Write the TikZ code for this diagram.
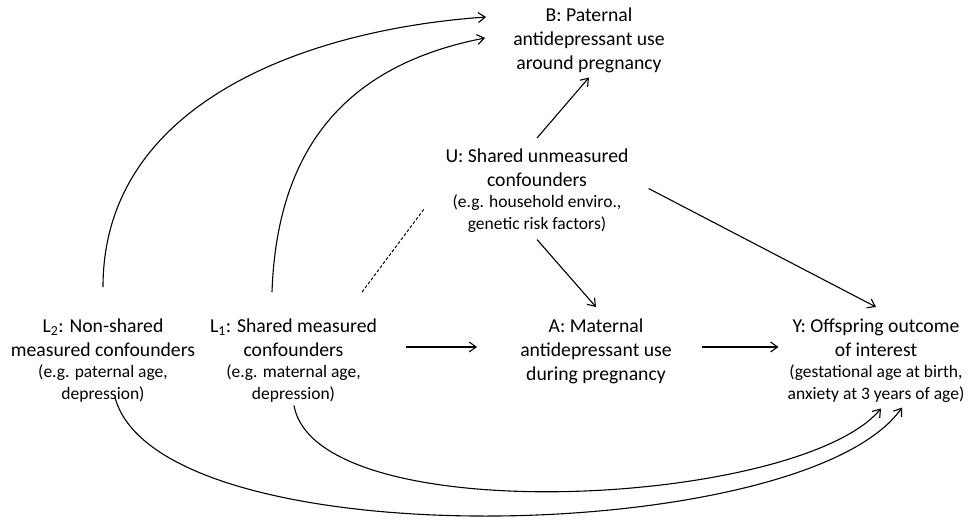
\documentclass[tikz,border=0pt]{standalone}
\usepackage{fontspec}
\setmainfont{Carlito}
\usetikzlibrary{arrows.meta}
\tikzset{txt/.style={align=center,inner sep=0pt,anchor=north,
    font=\fontsize{19.7}{24}\selectfont}}
\tikzset{arrow/.style={-{Straight Barb[length=7pt,width=10pt]},line width=1.1pt}}
\tikzset{assoc/.style={line width=1pt,dash pattern=on 3pt off 2pt}}
\newcommand{\eg}{\fontsize{17.5}{21.5}\selectfont}

\begin{document}
\begin{tikzpicture}[x=1pt,y=1pt]
        \useasboundingbox (0,0) rectangle (970,520);

        \node[txt] (b) at (589,512.5) {B: Paternal\\antidepressant use\\around pregnancy};
        \node[txt] (u) at (537,371.5) {U: Shared unmeasured\\confounders\\[-2.5pt]
            {\eg (e.g. household enviro.,}\\[-2.5pt]{\eg genetic risk factors)}};
        \node[txt] (l2) at (103,201.5) {L\textsubscript{2}: Non-shared\\measured confounders\\[-2.5pt]
            {\eg (e.g. paternal age,}\\[-2.5pt]{\eg depression)}};
        \node[txt] (l1) at (293.5,201.5) {L\textsubscript{1}: Shared measured\\confounders\\[-2.5pt]
            {\eg (e.g. maternal age,}\\[-2.5pt]{\eg depression)}};
        \node[txt] (a) at (596,201.5) {A: Maternal\\antidepressant use\\during pregnancy};
        \node[txt] (y) at (876,201.5) {Y: Offspring outcome\\of interest\\[-2.5pt]
            {\eg (gestational age at birth,}\\[-2.5pt]{\eg anxiety at 3 years of age)}};

        \draw[arrow] ([yshift=31.5pt]l2.north) to[out=90,in=184]
            ([shift={(-27pt,-9.5pt)}]b.north west);
        \draw[arrow] ([shift={(-21.5pt,26.5pt)}]l1.north) to[out=88,in=191,looseness=1.1]
            ([shift={(-28pt,-30.5pt)}]b.north west);
        \draw[assoc] ([shift={(-15pt,26.5pt)}]l1.north east) -- ([shift={(-21pt,24pt)}]u.south west);
        \draw[arrow] ([yshift=10.5pt]u.north) -- ([yshift=-4.5pt]b.south);
        \draw[arrow] ([yshift=-7pt]u.south) -- ([yshift=11.5pt]a.north);
        \draw[arrow] ([shift={(20pt,2pt)}]u.east) -- ([yshift=11.5pt]y.north);
        \draw[arrow] ([shift={(29pt,-28.5pt)}]l1.north east) -- ([shift={(-43pt,-28.5pt)}]a.north west);
        \draw[arrow] ([shift={(30pt,-28.5pt)}]a.north east) -- ([shift={(-9pt,-28.5pt)}]y.north west);
        \draw[arrow] ([shift={(0.5pt,-3pt)}]l1.south) to[out=-80,in=230,looseness=0.56]
            ([shift={(5pt,-6pt)}]y.south);
        \draw[arrow] ([shift={(12pt,5pt)}]l2.south) to[out=-75,in=235,looseness=0.55]
            ([shift={(26pt,-5pt)}]y.south);
    \end{tikzpicture}
\end{document}
